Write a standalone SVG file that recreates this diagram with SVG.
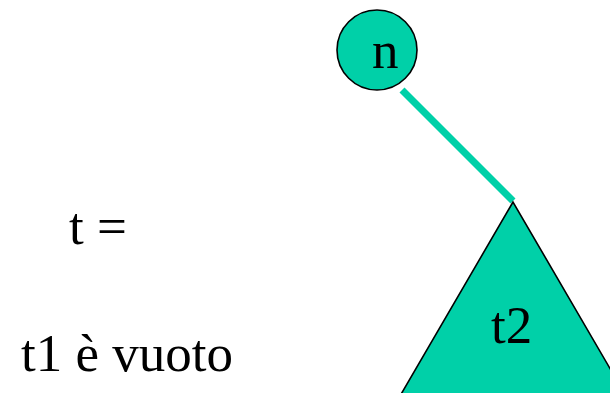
<svg xmlns="http://www.w3.org/2000/svg" width="610" height="393" viewBox="0 0 610 393">
<style>
.fill{fill:#00D0A8;stroke:#000;stroke-width:1.6}
.lbl{font-family:"Liberation Serif","Times New Roman",serif;font-size:53px;fill:#000}
</style>
<rect width="610" height="393" fill="#fff"/>
<g id="connectors">
<line x1="402" y1="90" x2="513" y2="201" stroke="#00D0A8" stroke-width="7"/>
</g>
<g id="node-t2">
<polygon class="fill" points="513,202 400,396 626,396"/>
<text class="lbl" x="491" y="343">t2</text>
</g>
<g id="node-n">
<circle class="fill" cx="377" cy="50" r="40"/>
<text class="lbl" x="372" y="68">n</text>
</g>
<g id="labels">
<text class="lbl" x="69" y="244">t =</text>
<text class="lbl" x="21" y="371" textLength="212">t1 è vuoto</text>
</g>
</svg>
